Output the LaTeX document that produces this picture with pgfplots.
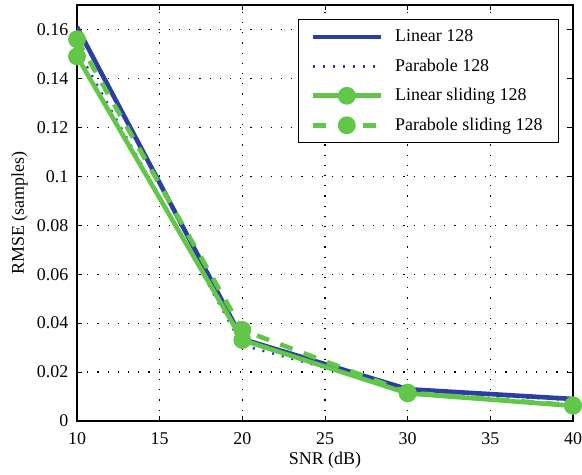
\documentclass[border=0pt]{standalone}
\usepackage{fontspec}
\setmainfont{Liberation Serif}
\usepackage{pgfplots}
\pgfplotsset{compat=1.18}
\definecolor{mblue}{RGB}{44,62,162}
\definecolor{mgreen}{RGB}{98,198,72}
\begin{document}
\fontsize{9}{11}\selectfont
\begin{tikzpicture}
\begin{axis}[
  name=ax,
  scale only axis,
  width=248bp, height=208bp,
  xmin=10, xmax=40, ymin=0, ymax=0.17,
  xtick={10,15,...,40},
  ytick={0,0.02,...,0.16},
  yticklabel style={/pgf/number format/fixed,/pgf/number format/precision=2, xshift=-1.2bp},
  xticklabel style={yshift=-2.5bp},
  ticklabel style={font=\fontsize{9}{11}\selectfont},
  scaled y ticks=false,
  /pgf/number format/assume math mode=true,
  tick align=inside, tick style={black, line width=0.5bp},
  major tick length=2.5bp,
  grid=major,
  major grid style={black, line width=0.6bp, dash pattern=on 0.6bp off 4.5bp},
  axis line style={black, line width=0.9bp},
  xlabel={SNR (dB)}, ylabel={RMSE (samples)},
  label style={font=\fontsize{9}{11}\selectfont},
  xlabel style={at={(axis description cs:0.5,0)}, anchor=center, yshift=-19.5bp},
  ylabel style={at={(axis description cs:0,0.5)}, anchor=center, rotate=0, yshift=28.75bp},
  legend style={at={(0.972,0.966)}, anchor=north east, draw=black, line width=0.6bp,
    font=\fontsize{9}{11}\selectfont, row sep=3.2bp, column sep=4bp, inner xsep=6bp, inner ysep=3bp},
  legend cell align=left,
  legend image code/.code={\draw[mark repeat=2,mark phase=2,#1] plot coordinates {(0bp,0bp) (17bp,0bp) (34bp,0bp)};},
]
\addplot[mblue, line width=2.3bp] coordinates {(10,0.161) (20,0.0335) (30,0.013) (40,0.009)};
\addlegendentry{Linear 128}
\addplot[mblue, line width=1.3bp, dash pattern=on 1bp off 4bp] coordinates {(10,0.152) (20,0.031) (30,0.0125) (40,0.0085)};
\addlegendentry{Parabole 128}
\addplot[mgreen, line width=2.3bp, mark=*, mark size=3.3bp, mark options={solid, fill=mgreen}] coordinates {(10,0.149) (20,0.0331) (30,0.0113) (40,0.0062)};
\addlegendentry{Linear sliding 128}
\addplot[mgreen, line width=2.3bp, dash pattern=on 6.5bp off 6bp, mark=*, mark size=3.3bp, mark options={solid, fill=mgreen}] coordinates {(10,0.156) (20,0.0372) (30,0.0116) (40,0.0064)};
\addlegendentry{Parabole sliding 128}
\end{axis}
\pgfresetboundingbox
\path ([xshift=-38.5bp, yshift=-27bp]ax.south west) rectangle ([xshift=4.5bp, yshift=2.5bp]ax.north east);
\end{tikzpicture}
\end{document}
